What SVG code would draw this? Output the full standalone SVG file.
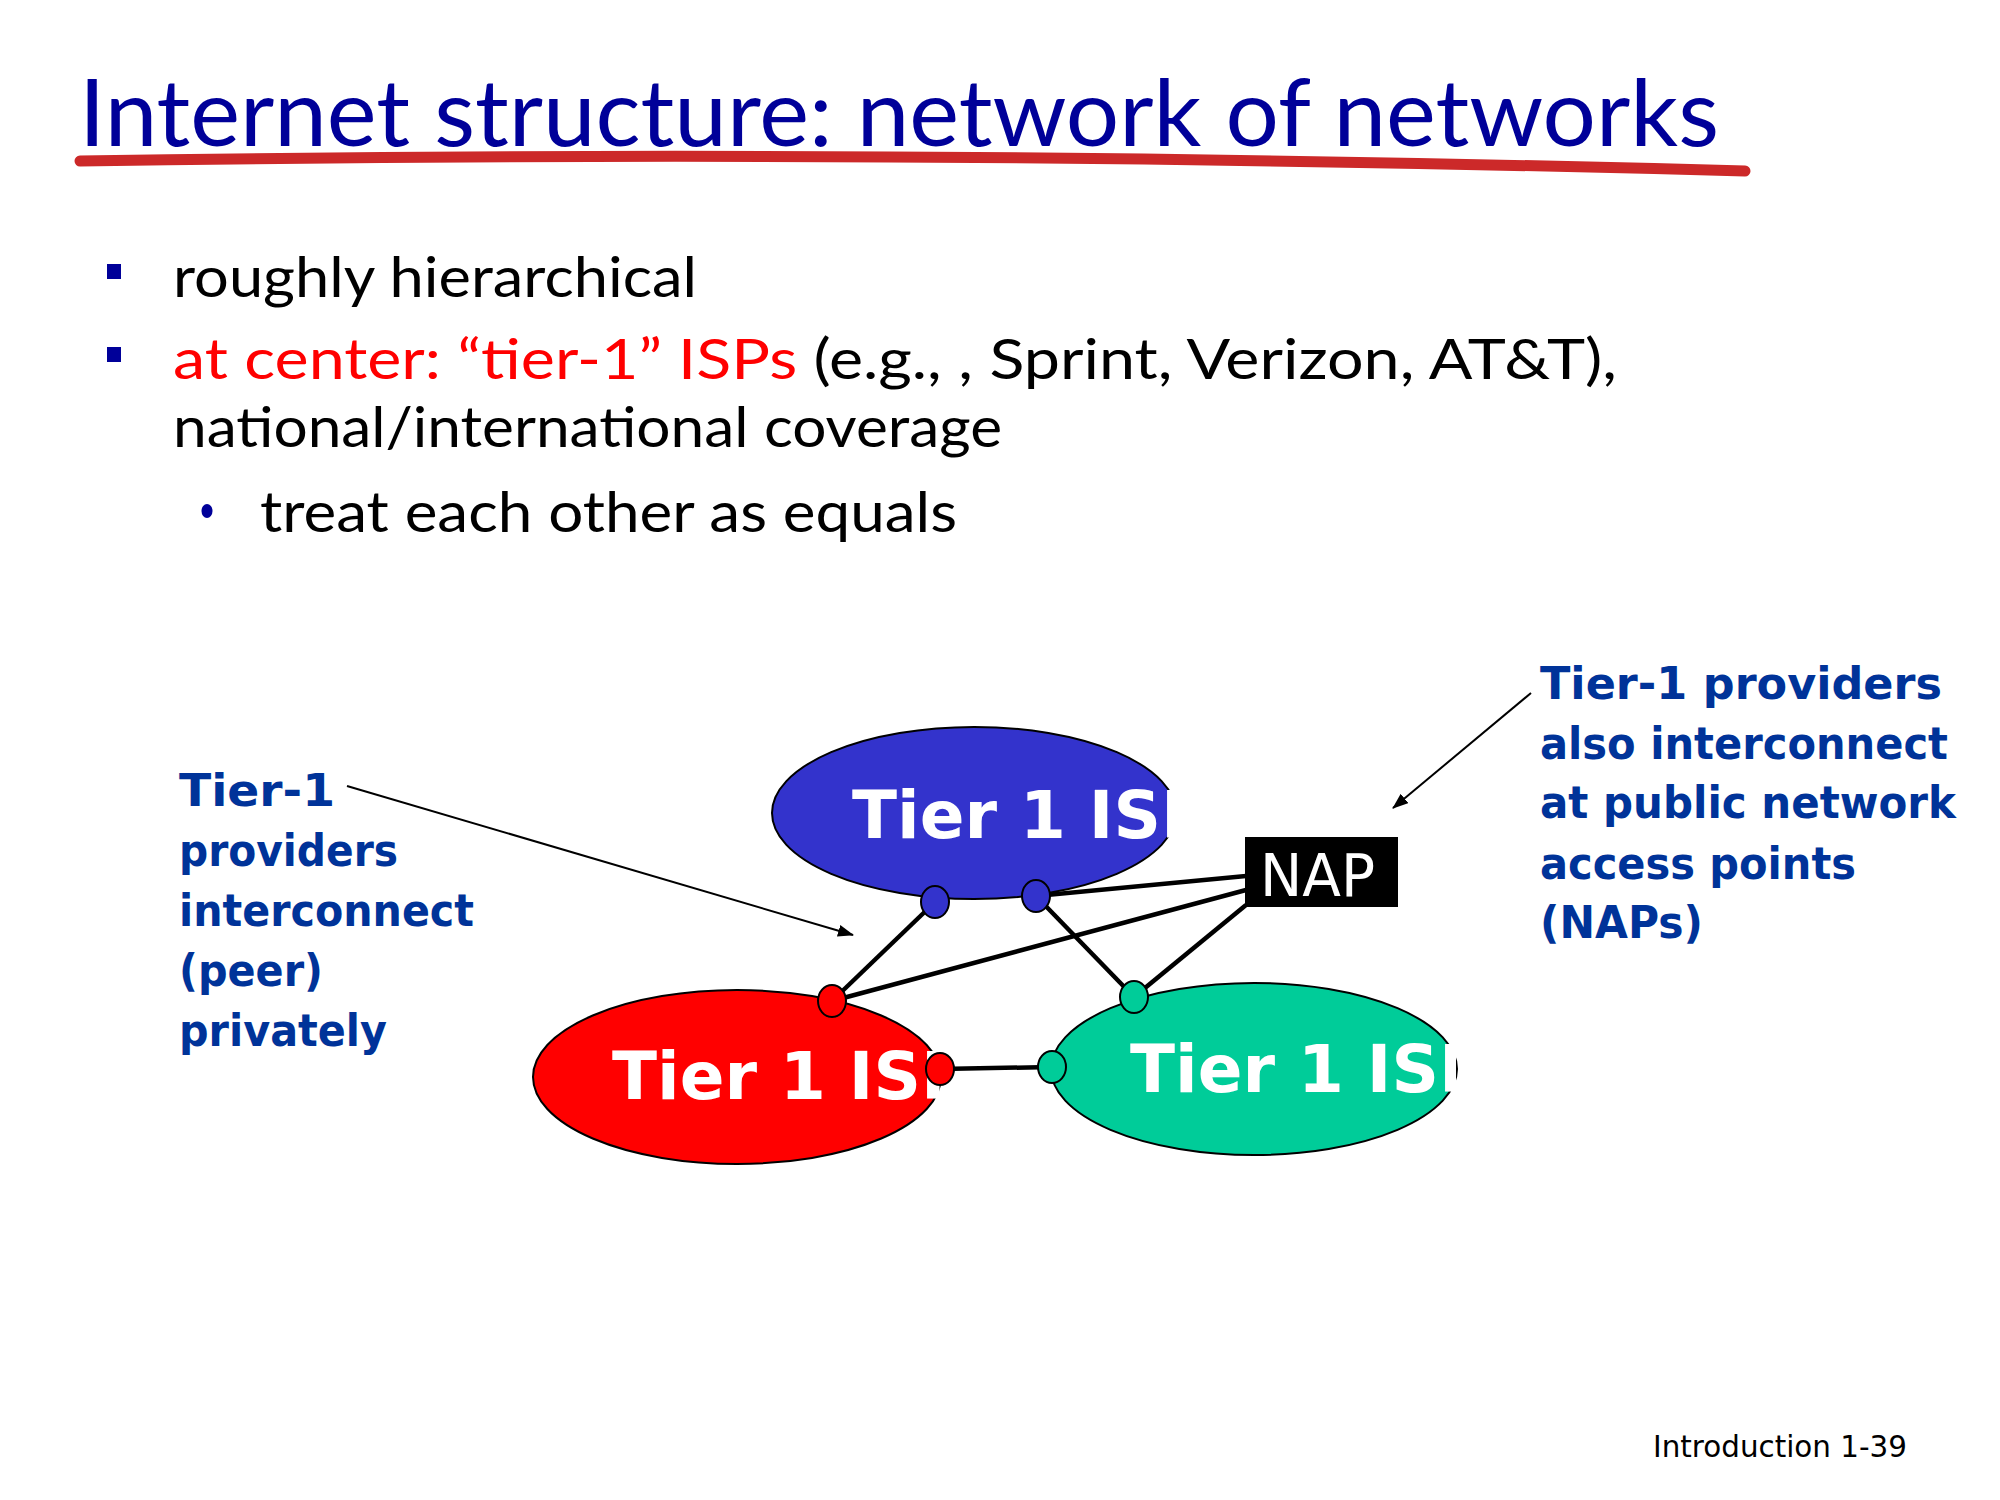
<svg xmlns="http://www.w3.org/2000/svg" width="2000" height="1500" viewBox="0 0 2000 1500">
  <style>
    .title { font-family: Lato, "Open Sans", sans-serif; font-size: 94px; fill: #000099; }
    .body { font-family: Lato, "Open Sans", sans-serif; font-size: 56px; fill: #000000; }
    .red { fill: #ff0000; }
    .note { font-family: "Comic Sans MS", "DejaVu Sans", sans-serif; font-weight: bold; font-size: 44px; fill: #003399; }
    .isp { font-family: "Comic Sans MS", "DejaVu Sans", sans-serif; font-weight: bold; font-size: 66px; fill: #ffffff; }
    .nap { font-family: "Comic Sans MS", "DejaVu Sans", sans-serif; font-size: 58px; fill: #ffffff; }
    .cloud { stroke: #000000; stroke-width: 2; }
    .port { stroke: #000000; stroke-width: 2; }
    .link { stroke: #000000; stroke-width: 4.5; fill: none; }
    .pointer { stroke: #000000; stroke-width: 2; fill: none; marker-end: url(#arrow); }
    .footer { font-family: "DejaVu Sans", sans-serif; font-size: 30px; fill: #000000; }
  </style>
  <defs>
    <marker id="arrow" viewBox="0 0 16 12" refX="15" refY="6" markerWidth="16" markerHeight="12" markerUnits="userSpaceOnUse" orient="auto">
      <path d="M0,0 L16,6 L0,12 z" fill="#000000"/>
    </marker>
    <clipPath id="clipBlue"><rect x="760" y="700" width="420" height="220"/></clipPath>
    <clipPath id="clipRed"><rect x="520" y="980" width="421" height="220"/></clipPath>
    <clipPath id="clipGreen"><rect x="1040" y="970" width="416" height="220"/></clipPath>
  </defs>

  <rect width="2000" height="1500" fill="#ffffff"/>

  <!-- heading -->
  <text class="title" x="79" y="146" textLength="1640" lengthAdjust="spacingAndGlyphs">Internet structure: network of networks</text>
  <path d="M80 161 Q 900 148 1745 171" stroke="#cc2929" stroke-width="11" stroke-linecap="round" fill="none"/>

  <!-- bullet list -->
  <rect x="107" y="264" width="14" height="15" fill="#000099"/>
  <text class="body" x="173" y="297" textLength="524" lengthAdjust="spacingAndGlyphs">roughly hierarchical</text>
  <rect x="107" y="347" width="14" height="15" fill="#000099"/>
  <text class="body" x="173" y="379" textLength="1444" lengthAdjust="spacingAndGlyphs"><tspan class="red">at center: “tier-1” ISPs</tspan> (e.g., , Sprint, Verizon, AT&amp;T),</text>
  <text class="body" x="173" y="447" textLength="829" lengthAdjust="spacingAndGlyphs">national/international coverage</text>
  <ellipse cx="207" cy="511" rx="5.5" ry="7" fill="#000099"/>
  <text class="body" x="260" y="532" textLength="697" lengthAdjust="spacingAndGlyphs">treat each other as equals</text>

  <!-- ISP clouds -->
  <g id="isp-blue">
    <ellipse class="cloud" cx="974" cy="813" rx="202" ry="86" fill="#3333cc"/>
    <text class="isp" x="852" y="838" clip-path="url(#clipBlue)">Tier 1 ISP</text>
  </g>
  <g id="isp-red">
    <ellipse class="cloud" cx="737" cy="1077" rx="204" ry="87" fill="#ff0000"/>
    <text class="isp" x="612" y="1099" clip-path="url(#clipRed)">Tier 1 ISP</text>
  </g>
  <g id="isp-green">
    <ellipse class="cloud" cx="1254" cy="1069" rx="203" ry="86" fill="#00cc99"/>
    <text class="isp" x="1130" y="1092" clip-path="url(#clipGreen)">Tier 1 ISP</text>
  </g>

  <!-- links between ISPs and the NAP, plus callout pointers -->
  <g id="links">
    <line class="link" x1="935" y1="902" x2="832" y2="1001"/>
    <line class="link" x1="1036" y1="896" x2="1134" y2="997"/>
    <line class="link" x1="1036" y1="896" x2="1246" y2="876"/>
    <line class="link" x1="832" y1="1001" x2="1246" y2="890"/>
    <line class="link" x1="1134" y1="997" x2="1246" y2="905"/>
    <line class="link" x1="940" y1="1069" x2="1052" y2="1067"/>
    <line class="pointer" x1="347" y1="786" x2="853" y2="935"/>
    <line class="pointer" x1="1531" y1="693" x2="1393" y2="808"/>
  </g>

  <!-- peering ports -->
  <g id="ports">
    <ellipse class="port" cx="935" cy="902" rx="14" ry="16" fill="#3333cc"/>
    <ellipse class="port" cx="1036" cy="896" rx="14" ry="16" fill="#3333cc"/>
    <ellipse class="port" cx="832" cy="1001" rx="14" ry="16" fill="#ff0000"/>
    <ellipse class="port" cx="940" cy="1069" rx="14" ry="16" fill="#ff0000"/>
    <ellipse class="port" cx="1134" cy="997" rx="14" ry="16" fill="#00cc99"/>
    <ellipse class="port" cx="1052" cy="1067" rx="14" ry="16" fill="#00cc99"/>
  </g>

  <!-- network access point -->
  <g id="nap">
    <rect x="1245" y="837" width="153" height="70" fill="#000000"/>
    <text class="nap" x="1260" y="896" textLength="115" lengthAdjust="spacingAndGlyphs">NAP</text>
  </g>

  <!-- callouts -->
  <g id="note-private">
    <text class="note" x="179" y="806" textLength="156" lengthAdjust="spacingAndGlyphs">Tier-1</text>
    <text class="note" x="179" y="866" textLength="219" lengthAdjust="spacingAndGlyphs">providers</text>
    <text class="note" x="179" y="926" textLength="295" lengthAdjust="spacingAndGlyphs">interconnect</text>
    <text class="note" x="179" y="986" textLength="144" lengthAdjust="spacingAndGlyphs">(peer)</text>
    <text class="note" x="179" y="1046" textLength="208" lengthAdjust="spacingAndGlyphs">privately</text>
  </g>
  <g id="note-public">
    <text class="note" x="1540" y="699" textLength="402" lengthAdjust="spacingAndGlyphs">Tier-1 providers</text>
    <text class="note" x="1540" y="759" textLength="408" lengthAdjust="spacingAndGlyphs">also interconnect</text>
    <text class="note" x="1540" y="818" textLength="416" lengthAdjust="spacingAndGlyphs">at public network</text>
    <text class="note" x="1540" y="879" textLength="316" lengthAdjust="spacingAndGlyphs">access points</text>
    <text class="note" x="1540" y="938" textLength="163" lengthAdjust="spacingAndGlyphs">(NAPs)</text>
  </g>

  <text class="footer" x="1653" y="1457" textLength="254" lengthAdjust="spacingAndGlyphs">Introduction 1-39</text>
</svg>
